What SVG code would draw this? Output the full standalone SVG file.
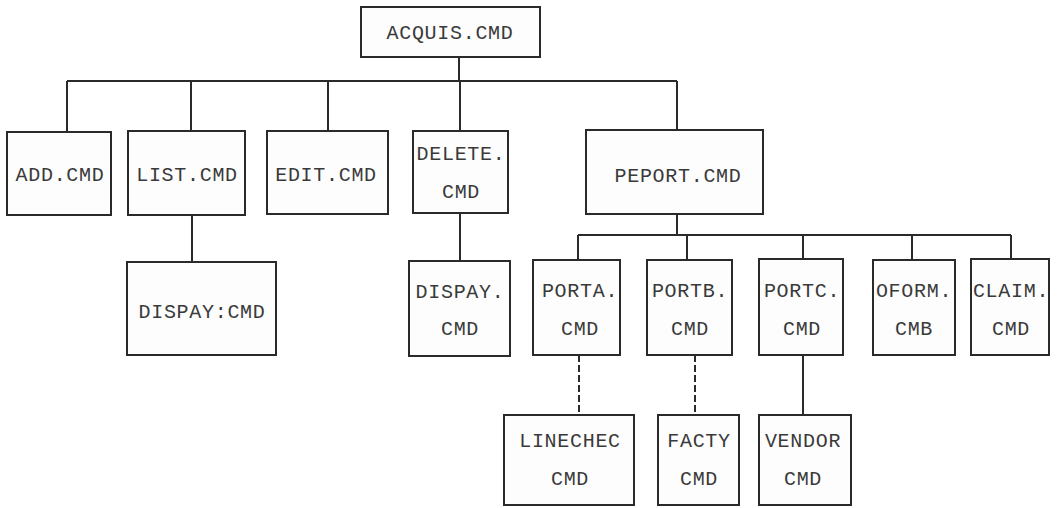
<svg xmlns="http://www.w3.org/2000/svg" width="1059" height="508" viewBox="0 0 1059 508">
<style>
.box{fill:#fdfdfd;stroke:#2a2a2a;stroke-width:2}
.t{font-family:"Liberation Mono","DejaVu Sans Mono",monospace;font-size:20px;fill:#3a3a3a;text-anchor:middle;letter-spacing:0.7px}
.c{fill:none;stroke:#2a2a2a;stroke-width:2}
.d{fill:none;stroke:#2a2a2a;stroke-width:2;stroke-dasharray:7 3}
</style>
<rect width="1059" height="508" fill="#ffffff"/>
<g id="connectors">
<path class="c" d="M459 57V81M67 81H677M67 81V132M191 81V131M328 81V131M460 81V131M677 81V130"/>
<path class="c" d="M192 215V262M460 213V261"/>
<path class="c" d="M677 214V235M578 235H1011M578 235V260M687 235V260M803 235V259M912 235V260M1011 235V259"/>
<path class="d" d="M579 355V415M695 355V415"/>
<path class="c" d="M803 355V415"/>
</g>
<g id="acquis"><rect class="box" x="361" y="7" width="179" height="50"/><text class="t" x="450" y="39">ACQUIS.CMD</text></g>
<g id="add"><rect class="box" x="7" y="132" width="104" height="83"/><text class="t" x="60" y="181">ADD.CMD</text></g>
<g id="list"><rect class="box" x="128" y="131" width="117" height="84"/><text class="t" x="187" y="181">LIST.CMD</text></g>
<g id="edit"><rect class="box" x="267" y="131" width="121" height="83"/><text class="t" x="326" y="181">EDIT.CMD</text></g>
<g id="delete"><rect class="box" x="413" y="131" width="95" height="82"/><text class="t" x="461" y="160">DELETE.</text><text class="t" x="461" y="198">CMD</text></g>
<g id="peport"><rect class="box" x="586" y="130" width="177" height="84"/><text class="t" x="678" y="182">PEPORT.CMD</text></g>
<g id="dispay1"><rect class="box" x="127" y="262" width="149" height="93"/><text class="t" x="202" y="318">DISPAY:CMD</text></g>
<g id="dispay2"><rect class="box" x="409" y="261" width="101" height="95"/><text class="t" x="460" y="298">DISPAY.</text><text class="t" x="460" y="335">CMD</text></g>
<g id="porta"><rect class="box" x="533" y="260" width="87" height="95"/><text class="t" x="580" y="297">PORTA.</text><text class="t" x="580" y="335">CMD</text></g>
<g id="portb"><rect class="box" x="647" y="260" width="85" height="95"/><text class="t" x="690" y="297">PORTB.</text><text class="t" x="690" y="335">CMD</text></g>
<g id="portc"><rect class="box" x="759" y="259" width="84" height="96"/><text class="t" x="802" y="297">PORTC.</text><text class="t" x="802" y="335">CMD</text></g>
<g id="oform"><rect class="box" x="873" y="260" width="82" height="95"/><text class="t" x="914" y="297">OFORM.</text><text class="t" x="914" y="335">CMB</text></g>
<g id="claim"><rect class="box" x="971" y="259" width="78" height="96"/><text class="t" x="1011" y="297">CLAIM.</text><text class="t" x="1011" y="335">CMD</text></g>
<g id="linechec"><rect class="box" x="504" y="415" width="130" height="90"/><text class="t" x="570" y="447">LINECHEC</text><text class="t" x="570" y="485">CMD</text></g>
<g id="facty"><rect class="box" x="658" y="415" width="81" height="90"/><text class="t" x="699" y="447">FACTY</text><text class="t" x="699" y="485">CMD</text></g>
<g id="vendor"><rect class="box" x="759" y="415" width="92" height="90"/><text class="t" x="803" y="447">VENDOR</text><text class="t" x="803" y="485">CMD</text></g>
</svg>
